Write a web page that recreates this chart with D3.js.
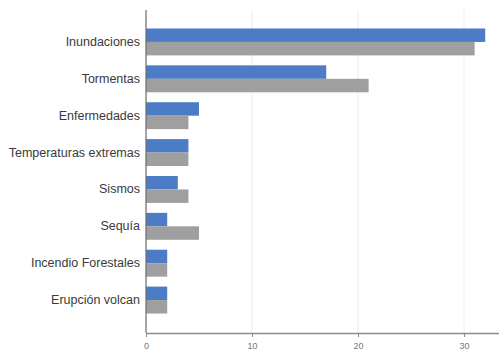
<!DOCTYPE html>
<html><head><meta charset="utf-8">
<script src="https://cdn.jsdelivr.net/npm/d3@7"></script>
<style>body{margin:0;background:#fff}svg{display:block}</style>
</head><body>
<svg id="c" width="499" height="352"></svg>
<script>
const categories = ["Inundaciones","Tormentas","Enfermedades","Temperaturas extremas","Sismos","Sequía","Incendio Forestales","Erupción volcan"];
const seriesA = [32, 17, 5, 4, 3, 2, 2, 2];
const seriesB = [31, 21, 4, 4, 4, 5, 2, 2];
const tickValues = [0, 10, 20, 30];

const svg = d3.select("#c");
const x = d3.scaleLinear().domain([0, 33.3]).range([146, 499]);
const y = d3.scaleBand().domain(categories).range([23.5, 318.5]).paddingInner(0.27).paddingOuter(0.135);
const sub = d3.scaleBand().domain(["a","b"]).range([0, y.bandwidth()]);

// grid
svg.append("g").selectAll("line").data(tickValues.slice(1)).join("line")
  .attr("x1", d => x(d)).attr("x2", d => x(d)).attr("y1", 10).attr("y2", 333)
  .attr("stroke", "#ececec").attr("stroke-width", 1);

const g = svg.append("g");
g.selectAll("rect.a").data(categories).join("rect").attr("class","a")
  .attr("x", x(0)).attr("y", d => y(d) + sub("a"))
  .attr("width", (d,i) => x(seriesA[i]) - x(0)).attr("height", sub.bandwidth())
  .attr("fill", "#4d7cc7");
g.selectAll("rect.b").data(categories).join("rect").attr("class","b")
  .attr("x", x(0)).attr("y", d => y(d) + sub("b"))
  .attr("width", (d,i) => x(seriesB[i]) - x(0)).attr("height", sub.bandwidth())
  .attr("fill", "#9f9f9f");

// x axis
const xa = svg.append("g").attr("transform", "translate(0,333)")
  .call(d3.axisBottom(x).tickValues(tickValues).tickSize(4).tickSizeOuter(0).tickFormat(d3.format("d")));
xa.select(".domain").attr("stroke", "#8a8a8a").attr("stroke-width", 1.5);
xa.selectAll(".tick line").attr("stroke", "#8a8a8a");
xa.selectAll(".tick text").attr("fill", "#777").attr("font-size", 9).attr("font-family", "Liberation Sans, sans-serif").attr("dy", "1.0em");

// y axis
const ya = svg.append("g").attr("transform", "translate(146,0)")
  .call(d3.axisLeft(y).tickSize(0).tickPadding(6));
ya.select(".domain").remove();
svg.append("line").attr("x1", 146).attr("x2", 146).attr("y1", 10).attr("y2", 333)
  .attr("stroke", "#6a6a6a").attr("stroke-width", 1.2);
ya.selectAll(".tick text").attr("fill", "#3a3a3a").attr("font-size", 12.5)
  .attr("font-family", "Liberation Sans, Arial, sans-serif")
  .attr("textLength", null);
</script>
</body></html>
